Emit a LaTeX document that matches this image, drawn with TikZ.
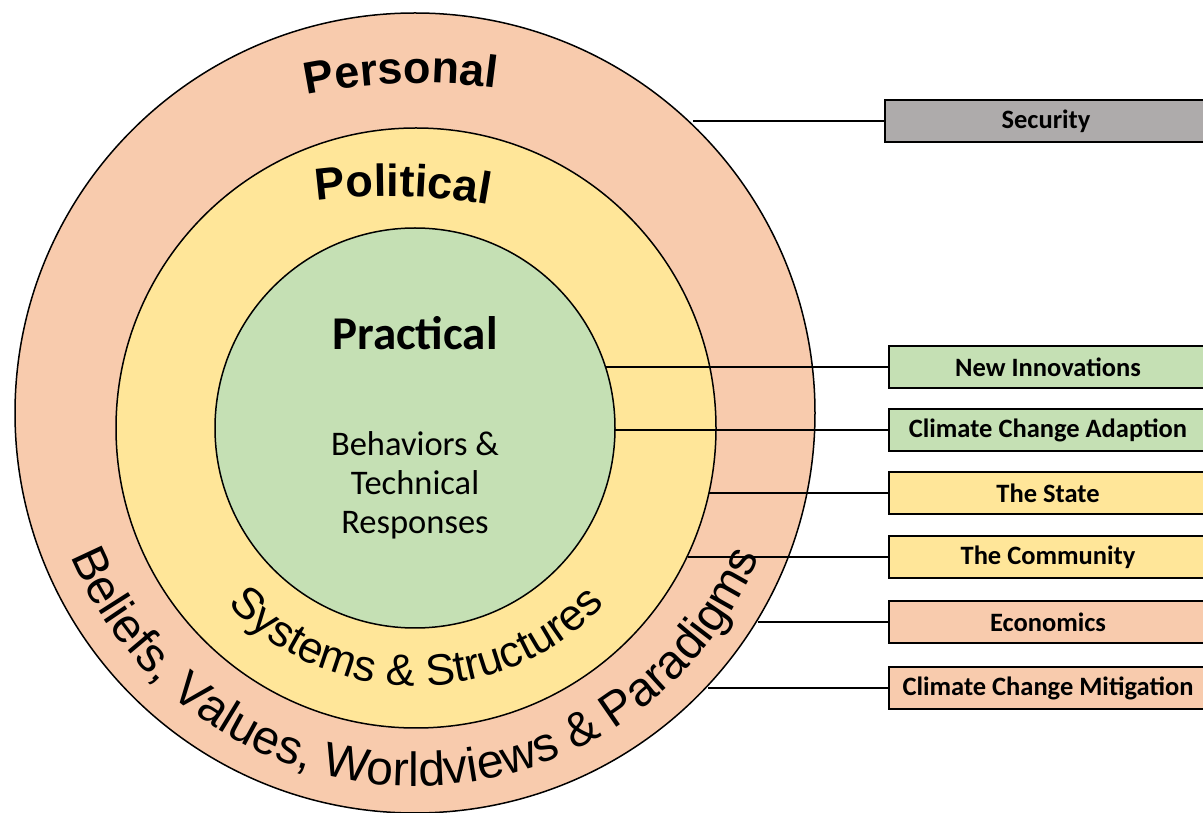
\documentclass[tikz,border=0pt]{standalone}
\usepackage{fontspec}
\setmainfont{Carlito}
\newfontfamily\arialfont{Liberation Sans}
\usetikzlibrary{calc,decorations.text}

\definecolor{peach}{HTML}{F8CBAD}
\definecolor{butter}{HTML}{FFE699}
\definecolor{sage}{HTML}{C5E0B4}
\definecolor{stone}{HTML}{AEABAB}

\begin{document}
\begin{tikzpicture}[x=1pt,y=1pt,
  ring/.style={circle, draw=black, line width=1.5pt, inner sep=0pt, outer sep=0pt},
  tag/.style={draw=black, line width=1.8pt, inner sep=0pt, outer sep=0pt,
    minimum width=318pt, minimum height=42pt, anchor=west,
    font=\fontsize{26.5}{26.5}\selectfont\bfseries},
  link/.style={line width=1.5pt},
  arctext/.style={decorate, decoration={text along path, text align=center, text={#1}}}]
\useasboundingbox (0,0) rectangle (1203,812);
\clip (0,0) rectangle (1203,812);

% three nested spheres of transformation
\node[ring, fill=peach, minimum size=800pt] (outer) at (415,399) {};
\node[ring, fill=butter, minimum size=600pt] (middle) at (416,384) {};
\node[ring, fill=sage, minimum size=400pt] (inner) at (415,384) {};

% centres of the curved labels
\coordinate (pc) at (420,169);
\coordinate (lc) at (390,66);

% curved headings
\path[arctext={|\arialfont\bfseries\fontsize{45}{45}\selectfont|Personal}]
  ($(pc)+(111.94:560)$) arc[start angle=111.94, end angle=71.94, radius=560];
\path[arctext={|\arialfont\bfseries\fontsize{45}{45}\selectfont|Political}]
  ($(lc)+(108.65:550)$) arc[start angle=108.65, end angle=68.65, radius=550];
\path[arctext={|\arialfont\fontsize{44}{44}\selectfont|Systems {\&} Structures}]
  ($(middle.center)+(195:258)$) arc[start angle=195, end angle=345, radius=258];
\path[arctext={|\arialfont\fontsize{48}{48}\selectfont|Beliefs, Values, Worldviews {\&} Paradigms}]
  ($(outer.center)+(185:373)$) arc[start angle=185, end angle=355, radius=373];

% core labels
\node[font=\fontsize{47}{47}\selectfont\bfseries] (practical) at (415,479) {Practical};
\node[font=\fontsize{34.5}{39}\selectfont, align=center] (behav) at (415,327)
  {Behaviors \&\\Technical\\Responses};

% outcome boxes
\node[tag, fill=stone, minimum width=322pt] (security) at (885,691) {Security};
\node[tag, fill=sage] (innov) at (889,445) {New Innovations};
\node[tag, fill=sage] (adapt) at (889,382) {Climate Change Adaption};
\node[tag, fill=butter] (state) at (889,319) {The State};
\node[tag, fill=butter] (community) at (889,255) {The Community};
\node[tag, fill=peach] (econ) at (889,190) {Economics};
\node[tag, fill=peach] (mitig) at (889,124) {Climate Change Mitigation};

% connectors from the rings to the boxes
\draw[link] (security.west) -- (security.west -| outer.46.9);
\draw[link] (innov.west) -- (innov.west -| inner.17.76);
\draw[link] (adapt.west) -- (adapt.west -| inner.-0.57);
\draw[link] (state.west) -- (state.west -| middle.-12.51);
\draw[link] (community.west) -- (community.west -| middle.-25.47);
\draw[link] (econ.west) -- (econ.west -| outer.-31.5);
\draw[link] (mitig.west) -- (mitig.west -| outer.-43.43);
\end{tikzpicture}
\end{document}
